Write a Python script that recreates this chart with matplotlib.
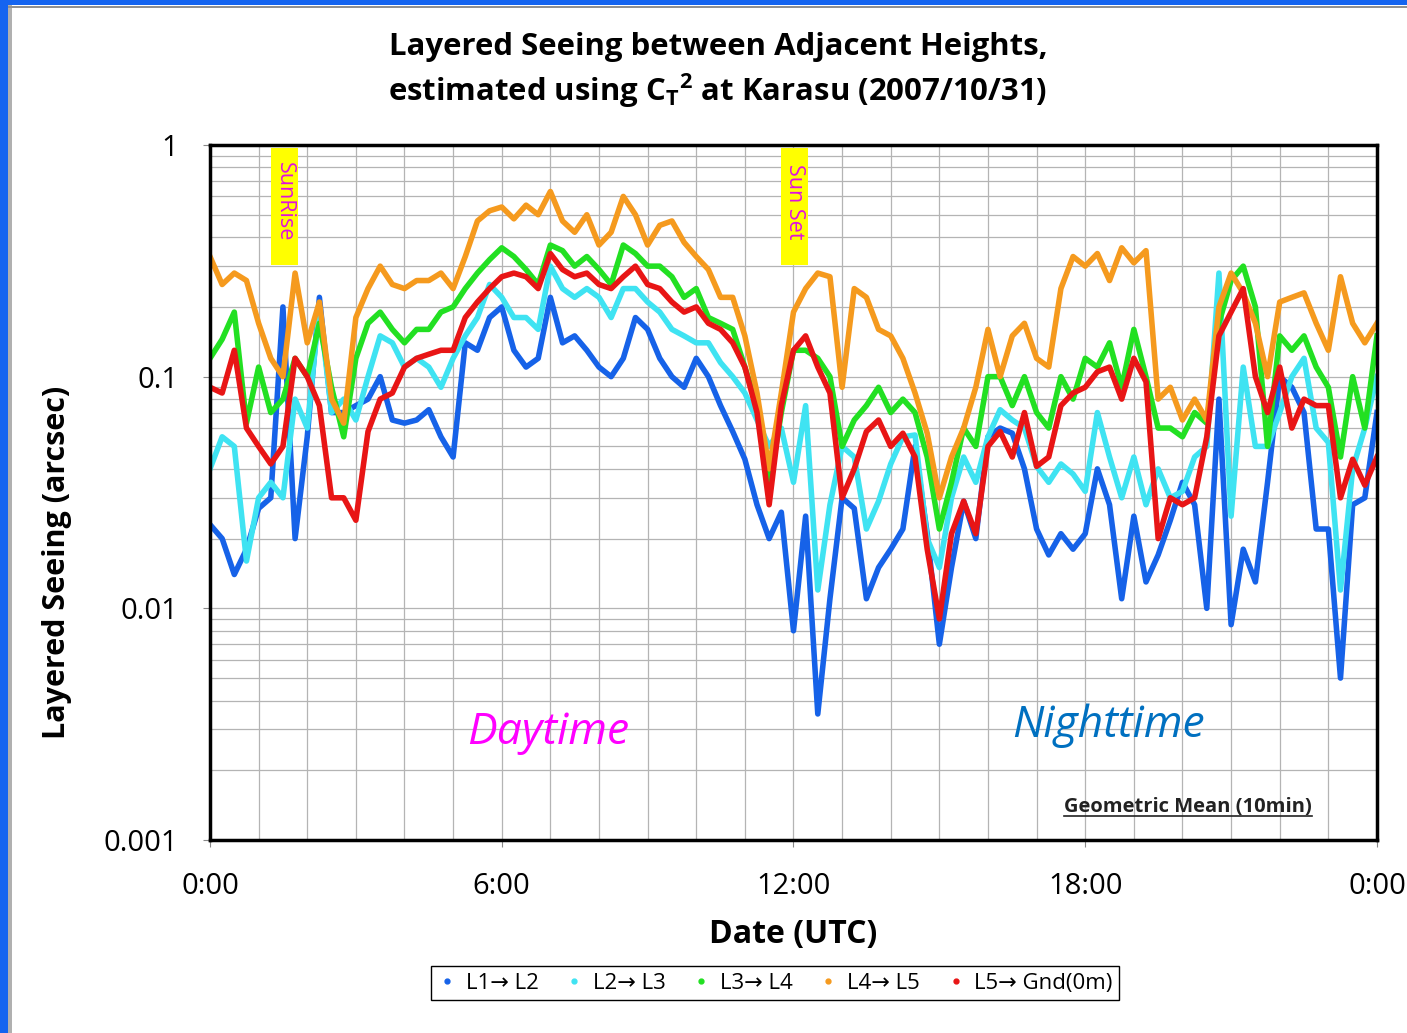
import numpy as np
import matplotlib
matplotlib.use("Agg")
import matplotlib.pyplot as plt
from matplotlib.lines import Line2D
from matplotlib.patches import Rectangle
from matplotlib.ticker import FixedLocator, MultipleLocator, LogLocator, NullFormatter

plt.rcParams['font.family'] = ['Open Sans', 'DejaVu Sans']
plt.rcParams['mathtext.fontset'] = 'custom'
plt.rcParams['mathtext.rm'] = 'Open Sans:bold'
plt.rcParams['mathtext.it'] = 'Open Sans:bold'

# time of day (UTC hours), 15 min steps
hours = np.arange(0, 24.01, 0.25)

# layered seeing (arcsec), 0:00 .. 24:00
l1_l2 = [0.023, 0.02, 0.014, 0.018, 0.027, 0.03, 0.2, 0.02, 0.055, 0.22, 0.07, 0.07,
         0.075, 0.08, 0.1, 0.065, 0.063, 0.065, 0.072, 0.055, 0.045, 0.14, 0.13, 0.18,
         0.2, 0.13, 0.11, 0.12, 0.22, 0.14, 0.15, 0.13, 0.11, 0.1, 0.12, 0.18,
         0.16, 0.12, 0.1, 0.09, 0.12, 0.1, 0.075, 0.058, 0.044, 0.028, 0.02, 0.026,
         0.008, 0.025, 0.0035, 0.011, 0.03, 0.027, 0.011, 0.015, 0.018, 0.022, 0.05, 0.021,
         0.007, 0.015, 0.029, 0.02, 0.055, 0.06, 0.057, 0.04, 0.022, 0.017, 0.021, 0.018,
         0.021, 0.04, 0.028, 0.011, 0.025, 0.013, 0.017, 0.024, 0.035, 0.028, 0.01, 0.08,
         0.0085, 0.018, 0.013, 0.035, 0.1, 0.09, 0.07, 0.022, 0.022, 0.005, 0.028, 0.03,
         0.07]
l2_l3 = [0.04, 0.055, 0.05, 0.016, 0.03, 0.035, 0.03, 0.08, 0.06, 0.2, 0.07, 0.08,
         0.065, 0.1, 0.15, 0.14, 0.11, 0.12, 0.11, 0.09, 0.12, 0.15, 0.18, 0.25,
         0.22, 0.18, 0.18, 0.16, 0.3, 0.24, 0.22, 0.24, 0.22, 0.18, 0.24, 0.24,
         0.21, 0.19, 0.16, 0.15, 0.14, 0.14, 0.115, 0.1, 0.085, 0.065, 0.05, 0.06,
         0.035, 0.075, 0.012, 0.028, 0.05, 0.045, 0.022, 0.029, 0.042, 0.055, 0.056, 0.02,
         0.015, 0.03, 0.045, 0.035, 0.055, 0.072, 0.065, 0.06, 0.041, 0.035, 0.042, 0.038,
         0.032, 0.07, 0.045, 0.03, 0.045, 0.028, 0.04, 0.03, 0.032, 0.045, 0.05, 0.28,
         0.025, 0.11, 0.05, 0.05, 0.07, 0.1, 0.12, 0.06, 0.052, 0.012, 0.04, 0.06,
         0.1]
l3_l4 = [0.12, 0.145, 0.19, 0.063, 0.11, 0.07, 0.08, 0.12, 0.1, 0.17, 0.09, 0.055,
         0.12, 0.17, 0.19, 0.16, 0.14, 0.16, 0.16, 0.19, 0.2, 0.24, 0.28, 0.32,
         0.36, 0.33, 0.29, 0.25, 0.37, 0.35, 0.3, 0.33, 0.29, 0.25, 0.37, 0.34,
         0.3, 0.3, 0.27, 0.22, 0.24, 0.18, 0.17, 0.16, 0.11, 0.075, 0.033, 0.07,
         0.13, 0.13, 0.12, 0.1, 0.05, 0.065, 0.075, 0.09, 0.07, 0.08, 0.07, 0.045,
         0.022, 0.035, 0.06, 0.05, 0.1, 0.1, 0.075, 0.1, 0.07, 0.06, 0.1, 0.08,
         0.12, 0.11, 0.14, 0.09, 0.16, 0.1, 0.06, 0.06, 0.055, 0.07, 0.063, 0.17,
         0.26, 0.3, 0.2, 0.05, 0.15, 0.13, 0.15, 0.11, 0.09, 0.045, 0.1, 0.06,
         0.15]
l4_l5 = [0.33, 0.25, 0.28, 0.26, 0.17, 0.12, 0.1, 0.28, 0.14, 0.21, 0.08, 0.063,
         0.18, 0.24, 0.3, 0.25, 0.24, 0.26, 0.26, 0.28, 0.24, 0.33, 0.47, 0.52,
         0.54, 0.48, 0.55, 0.5, 0.63, 0.47, 0.42, 0.5, 0.37, 0.42, 0.6, 0.5,
         0.37, 0.45, 0.47, 0.38, 0.33, 0.29, 0.22, 0.22, 0.15, 0.085, 0.04, 0.085,
         0.19, 0.24, 0.28, 0.27, 0.09, 0.24, 0.22, 0.16, 0.15, 0.12, 0.085, 0.057,
         0.03, 0.045, 0.06, 0.09, 0.16, 0.1, 0.15, 0.17, 0.12, 0.11, 0.24, 0.33,
         0.3, 0.34, 0.26, 0.36, 0.31, 0.35, 0.08, 0.09, 0.065, 0.08, 0.065, 0.2,
         0.28, 0.23, 0.17, 0.1, 0.21, 0.22, 0.23, 0.17, 0.13, 0.27, 0.17, 0.14,
         0.17]
l5_gnd = [0.09, 0.085, 0.13, 0.06, 0.05, 0.042, 0.05, 0.12, 0.1, 0.075, 0.03, 0.03,
          0.024, 0.058, 0.08, 0.085, 0.11, 0.12, 0.125, 0.13, 0.13, 0.18, 0.21, 0.24,
          0.27, 0.28, 0.27, 0.24, 0.34, 0.29, 0.27, 0.28, 0.25, 0.24, 0.27, 0.3,
          0.25, 0.24, 0.21, 0.19, 0.2, 0.17, 0.16, 0.14, 0.11, 0.07, 0.028, 0.075,
          0.13, 0.15, 0.11, 0.085, 0.03, 0.04, 0.058, 0.065, 0.05, 0.057, 0.045, 0.018,
          0.009, 0.021, 0.029, 0.021, 0.05, 0.058, 0.045, 0.07, 0.041, 0.045, 0.075, 0.085,
          0.09, 0.105, 0.11, 0.08, 0.12, 0.095, 0.02, 0.03, 0.028, 0.03, 0.055, 0.15,
          0.19, 0.24, 0.1, 0.07, 0.11, 0.06, 0.08, 0.075, 0.075, 0.03, 0.044, 0.034,
          0.045]

series = [l1_l2, l2_l3, l3_l4, l4_l5, l5_gnd]
labels = ["L1\u2192 L2", "L2\u2192 L3", "L3\u2192 L4", "L4\u2192 L5", "L5\u2192 Gnd(0m)"]
colors = ['#1662E8', '#3FE3F2', '#22E022', '#F59A1E', '#E81515']

tick_hours = [0, 6, 12, 18, 24]
tick_labels = ["0:00", "6:00", "12:00", "18:00", "0:00"]
sun_events = [("SunRise", 1.53), ("Sun Set", 12.02)]

fig = plt.figure(figsize=(14.07, 10.33), dpi=100, facecolor='white')
ax = fig.add_axes([0.14925, 0.18683, 0.8294, 0.6728])

for vals, c, lab in zip(series, colors, labels):
    ax.plot(hours, vals, color=c, lw=4, solid_joinstyle='round', label=lab)

ax.set_yscale('log')
ax.set_ylim(0.001, 1)
ax.set_xlim(0, 24)

ax.xaxis.set_major_locator(FixedLocator(tick_hours))
ax.set_xticklabels(tick_labels)
ax.xaxis.set_minor_locator(MultipleLocator(1))
ax.yaxis.set_major_locator(LogLocator(base=10, numticks=10))
ax.yaxis.set_minor_locator(LogLocator(base=10, subs=np.arange(2, 10), numticks=10))
ax.yaxis.set_minor_formatter(NullFormatter())
ax.set_yticks([0.001, 0.01, 0.1, 1])
ax.set_yticklabels(["0.001", "0.01", "0.1", "1"])

ax.grid(which='both', color='#b4b4b4', lw=0.9)
ax.set_axisbelow(True)
ax.tick_params(axis='both', which='major', labelsize=21, length=5, color='#888888')
ax.tick_params(axis='x', which='major', pad=18)
ax.tick_params(axis='y', which='major', pad=18)
ax.tick_params(which='minor', length=0)
for s in ax.spines.values():
    s.set_linewidth(2.5)
    s.set_color('black')

# sunrise / sunset markers
for txt, h in sun_events:
    ax.add_patch(Rectangle((h - 0.28, 0.303), 0.56, 0.67, facecolor='#FFFF00',
                           edgecolor='none', zorder=3))
    ax.text(h, 0.57, txt, rotation=270, color='#E010E0', fontsize=15.5,
            ha='center', va='center', zorder=4)

ax.text(6.95, 0.0029, "Daytime", color='#FF00FF', fontsize=32, style='italic',
        ha='center', va='center')
ax.text(18.48, 0.0031, "Nighttime", color='#0070C0', fontsize=32, style='italic',
        ha='center', va='center')
gm = ax.text(0.838, 0.0475, "Geometric Mean (10min)", transform=ax.transAxes,
             fontsize=14.5, fontweight='bold', color='#222222', ha='center', va='center')

fig.text(0.5103, 0.9545, "Layered Seeing between Adjacent Heights,", fontsize=22.4,
         fontweight='bold', ha='center', va='center')
fig.text(0.5103, 0.9119, r"estimated using C$_\mathrm{T}{}^\mathrm{2}$ at Karasu (2007/10/31)",
         fontsize=22.4, fontweight='bold', ha='center', va='center')
fig.text(0.0405, 0.456, "Layered Seeing (arcsec)", rotation=90, fontsize=22,
         fontweight='bold', ha='center', va='center')
fig.text(0.5636, 0.0958, "Date (UTC)", fontsize=23, fontweight='bold',
         ha='center', va='center')

handles = [Line2D([], [], ls='none', marker='o', ms=3.5, color=c) for c in colors]
leg = fig.legend(handles, labels, loc='center', bbox_to_anchor=(0.551, 0.0484), ncol=5,
                 fontsize=16, frameon=True, fancybox=False, edgecolor='black',
                 framealpha=1, handlelength=0.8, handletextpad=0.45, columnspacing=1.2,
                 borderpad=0.3)
leg.get_frame().set_linewidth(1.0)

# slide border
fig.add_artist(Rectangle((0, 0), 8 / 1407, 1, transform=fig.transFigure,
                         facecolor='#1464F0', edgecolor='none'))
fig.add_artist(Rectangle((0, 1 - 5 / 1033), 1, 5 / 1033, transform=fig.transFigure,
                         facecolor='#1464F0', edgecolor='none'))
fig.add_artist(Rectangle((8 / 1407, 0), 4 / 1407, 1 - 5 / 1033, transform=fig.transFigure,
                         facecolor='#b0b0b0', edgecolor='none'))
fig.add_artist(Rectangle((8 / 1407, 1 - 8 / 1033), 1, 2 / 1033, transform=fig.transFigure,
                         facecolor='#909090', edgecolor='none'))

# underline for the annotation
fig.canvas.draw()
bb = gm.get_window_extent()
p0 = fig.transFigure.inverted().transform((bb.x0, bb.y0 + 1))
p1 = fig.transFigure.inverted().transform((bb.x1, bb.y0 + 1))
fig.add_artist(Line2D([p0[0], p1[0]], [p0[1], p1[1]], transform=fig.transFigure,
                      color='#222222', lw=1.2))

fig.savefig("out.png", dpi=100, facecolor='white')
